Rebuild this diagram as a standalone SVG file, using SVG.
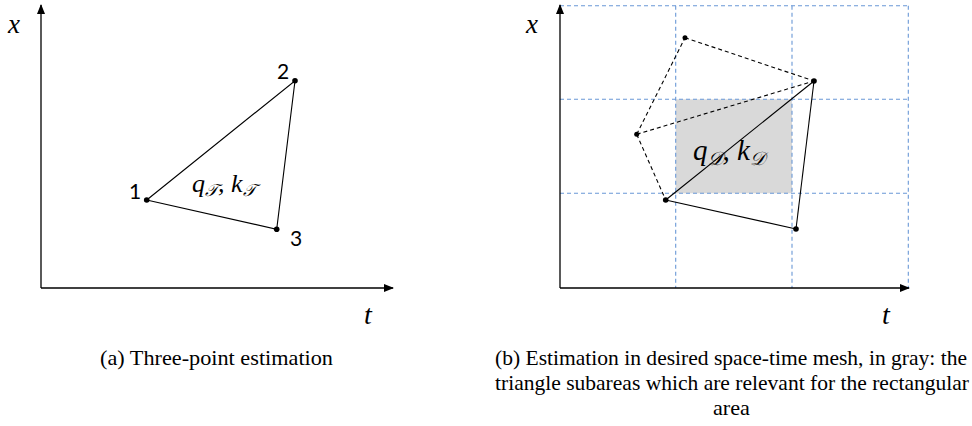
<svg xmlns="http://www.w3.org/2000/svg" width="972" height="426" viewBox="0 0 972 426">
<style>
.ax{stroke:#000;stroke-width:1.3;fill:none}
.s{stroke:#000;stroke-width:1.1;fill:none}
.d{stroke:#000;stroke-width:1.1;fill:none;stroke-dasharray:4 3}
.g{stroke:#6a98d6;stroke-width:1.1;fill:none;stroke-dasharray:4 3}
.m{font-family:"Liberation Serif","DejaVu Serif",serif;font-style:italic;fill:#000}
.n{font-family:Lato,"Open Sans",sans-serif;font-size:21px;fill:#000}
.c{font-family:"Liberation Serif",serif;font-size:21px;fill:#000}
</style>
<defs>
<marker id="ar" markerWidth="10" markerHeight="8" refX="9" refY="4" orient="auto" markerUnits="userSpaceOnUse">
<path d="M0,0 L10,4 L0,8 z" fill="#000"/>
</marker>
</defs>
<g id="panel-a">
<g id="axes-a">
<line class="ax" x1="41" y1="288" x2="41" y2="5" marker-end="url(#ar)"/>
<line class="ax" x1="41" y1="288" x2="393" y2="288" marker-end="url(#ar)"/>
<text class="m" x="8" y="33" font-size="27">x</text>
<text class="m" x="364" y="324" font-size="28">t</text>
</g>
<g id="connectors-a">
<polygon class="s" points="146.7,200 295,80.7 276.7,229.3"/>
</g>
<g id="node-a1"><circle cx="146.7" cy="200" r="2.8"/><text class="n" x="129" y="199">1</text></g>
<g id="node-a2"><circle cx="295" cy="80.7" r="2.8"/><text class="n" x="277" y="79">2</text></g>
<g id="node-a3"><circle cx="276.7" cy="229.3" r="2.8"/><text class="n" x="290" y="246">3</text></g>
<text class="m" x="192" y="192" font-size="26">q<tspan font-size="17" dy="4">𝒯</tspan><tspan dy="-4">, k</tspan><tspan font-size="17" dy="4">𝒯</tspan></text>
<text class="c" x="100" y="365" textLength="233" lengthAdjust="spacingAndGlyphs">(a) Three-point estimation</text>
</g>
<g id="panel-b">
<rect x="675.7" y="99.3" width="116.3" height="94" fill="#d9d9d9"/>
<g id="grid">
<line class="g" x1="560" y1="5.7" x2="908.3" y2="5.7"/>
<line class="g" x1="560" y1="99.3" x2="908.3" y2="99.3"/>
<line class="g" x1="560" y1="193.3" x2="908.3" y2="193.3"/>
<line class="g" x1="675.7" y1="5.7" x2="675.7" y2="288"/>
<line class="g" x1="792" y1="5.7" x2="792" y2="288"/>
<line class="g" x1="908.3" y1="5.7" x2="908.3" y2="288"/>
</g>
<g id="axes-b">
<line class="ax" x1="560" y1="288" x2="560" y2="5" marker-end="url(#ar)"/>
<line class="ax" x1="560" y1="288" x2="909" y2="288" marker-end="url(#ar)"/>
<text class="m" x="526" y="33" font-size="27">x</text>
<text class="m" x="882" y="324" font-size="28">t</text>
</g>
<g id="connectors-b">
<line class="d" x1="636.7" y1="134.3" x2="685" y2="37.7"/>
<line class="d" x1="685" y1="37.7" x2="814" y2="81"/>
<line class="d" x1="636.7" y1="134.3" x2="814" y2="81"/>
<line class="d" x1="636.7" y1="134.3" x2="665.7" y2="200"/>
<line class="s" x1="665.7" y1="200" x2="814" y2="81"/>
<line class="s" x1="665.7" y1="200" x2="796" y2="229"/>
<line class="s" x1="796" y1="229" x2="814" y2="81"/>
</g>
<g id="node-bA"><circle cx="685" cy="37.7" r="2.5"/></g>
<g id="node-bB"><circle cx="814" cy="81" r="2.8"/></g>
<g id="node-bC"><circle cx="636.7" cy="134.3" r="2.5"/></g>
<g id="node-bD"><circle cx="665.7" cy="200" r="2.8"/></g>
<g id="node-bE"><circle cx="796" cy="229" r="2.8"/></g>
<text class="m" x="693" y="160" font-size="29">q<tspan font-size="19" dy="5">𝒟</tspan><tspan dy="-5">, k</tspan><tspan font-size="19" dy="5">𝒟</tspan></text>
<text class="c" x="495" y="365" textLength="472" lengthAdjust="spacingAndGlyphs">(b) Estimation in desired space-time mesh, in gray: the</text>
<text class="c" x="495" y="390" textLength="474" lengthAdjust="spacingAndGlyphs">triangle subareas which are relevant for the rectangular</text>
<text class="c" x="713" y="415" textLength="37" lengthAdjust="spacingAndGlyphs">area</text>
</g>
</svg>
